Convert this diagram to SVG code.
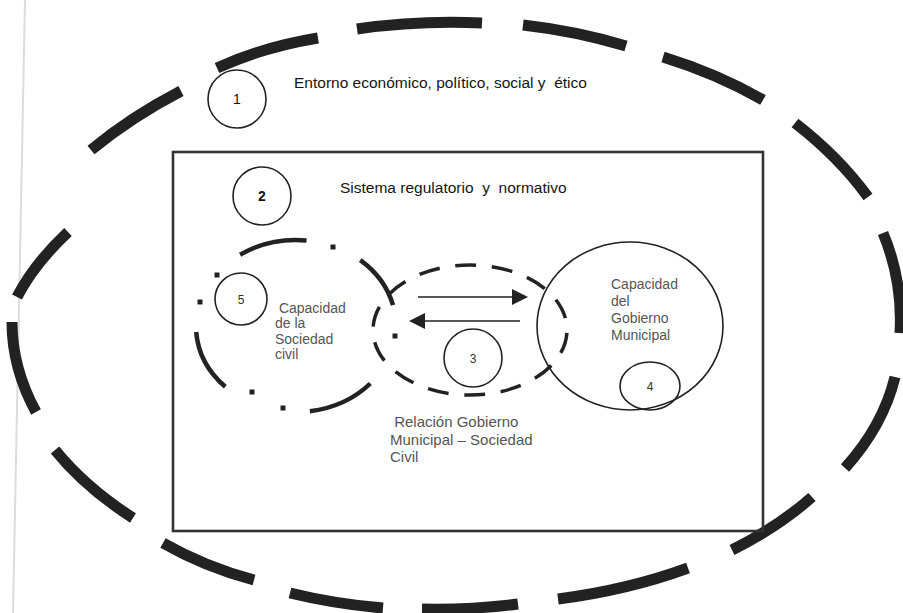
<svg xmlns="http://www.w3.org/2000/svg" width="903" height="613" viewBox="0 0 903 613">
<defs>
<style>
.bigdash{fill:none;stroke:#222;stroke-width:11;stroke-linecap:butt}
.thin{fill:none;stroke:#222;stroke-width:1.6}
.frame{fill:none;stroke:#333;stroke-width:2.6}
.soc{fill:none;stroke:#222;stroke-width:4.5}
.dot{fill:#222}
.rel{fill:none;stroke:#222;stroke-width:3.5;stroke-dasharray:21 15.7;stroke-dashoffset:-3}
.t{font-family:"Liberation Sans",Arial,sans-serif;white-space:pre}
.title{font-size:15.5px;fill:#151515}
.inner{font-size:14px;fill:#555}
.rtxt{font-size:15px;fill:#555}
.num{font-size:14px;fill:#111;text-anchor:middle}
.nums{font-size:12px;fill:#333;text-anchor:middle}
.arrow{stroke:#222;stroke-width:1.6;fill:none}
</style>
<marker id="head" markerUnits="userSpaceOnUse" markerWidth="16" markerHeight="16" refX="2" refY="8" orient="auto">
<path d="M0,0 L16,8 L0,16 Z" fill="#222"/>
</marker>
</defs>
<rect width="903" height="613" fill="#fff"/>
<line x1="25" y1="0" x2="13" y2="613" stroke="#dcdcdc" stroke-width="2"/>

<g id="entorno">
<path class="bigdash" d="M91,150 Q131,117 181,91"/>
<path class="bigdash" d="M217,68 Q263,47 318,38"/>
<path class="bigdash" d="M357,29 Q419,20 482,23"/>
<path class="bigdash" d="M523,25 Q576,31 626,46"/>
<path class="bigdash" d="M663,57 Q718,74 763,100"/>
<path class="bigdash" d="M795,123 Q839,157 868,197"/>
<path class="bigdash" d="M883,233 Q903,281 900,333"/>
<path class="bigdash" d="M895,377 Q883,426 845,468"/>
<path class="bigdash" d="M812,497 Q778,527 732,550"/>
<path class="bigdash" d="M688,568 Q628,590 558,599"/>
<path class="bigdash" d="M518,604 Q470,610 422,609"/>
<path class="bigdash" d="M383,608 Q335,604 290,593"/>
<path class="bigdash" d="M254,580 Q205,567 163,543"/>
<path class="bigdash" d="M133,518 Q86,488 55,450"/>
<path class="bigdash" d="M36,412 Q12,368 12,322"/>
<path class="bigdash" d="M17,297 Q34,264 68,232"/>
<circle class="thin" cx="237" cy="99" r="29"/>
<text class="t num" x="237" y="104">1</text>
<text class="t title" x="294" y="88" xml:space="preserve">Entorno económico, político, social y  ético</text>
</g>

<g id="sistema">
<rect class="frame" x="173" y="152" width="590" height="379"/>
<circle class="thin" cx="262" cy="196" r="29"/>
<text class="t num" x="262" y="201" font-weight="bold">2</text>
<text class="t title" x="340" y="193" xml:space="preserve">Sistema regulatorio  y  normativo</text>
</g>

<g id="sociedad">
<path class="soc" d="M240.1,254.7 A100,86 0 0 1 306.5,240.5"/>
<path class="soc" d="M360.3,260.1 A100,86 0 0 1 393.0,305.2"/>
<path class="soc" d="M370.3,383.5 A100,86 0 0 1 309.9,411.2"/>
<path class="soc" d="M225.3,386.8 A100,86 0 0 1 196.2,332.0"/>
<rect class="dot" x="330.5" y="244.5" width="5" height="5"/>
<rect class="dot" x="392.5" y="333.5" width="5" height="5"/>
<rect class="dot" x="280.5" y="405.5" width="5" height="5"/>
<rect class="dot" x="249.5" y="389.5" width="5" height="5"/>
<rect class="dot" x="197.5" y="299.5" width="5" height="5"/>
<rect class="dot" x="214.5" y="272.5" width="5" height="5"/>
<circle class="thin" cx="241" cy="299" r="26"/>
<text class="t nums" x="241" y="304">5</text>
<text class="t inner" x="275" y="313" xml:space="preserve"> Capacidad</text>
<text class="t inner" x="275" y="328">de la</text>
<text class="t inner" x="275" y="344">Sociedad</text>
<text class="t inner" x="275" y="359">civil</text>
</g>

<g id="relacion">
<ellipse class="rel" cx="470" cy="330" rx="97" ry="65"/>
<circle class="thin" cx="473" cy="358" r="29"/>
<text class="t nums" x="473" y="363">3</text>
<text class="t rtxt" x="390" y="427" xml:space="preserve"> Relación Gobierno</text>
<text class="t rtxt" x="390" y="445">Municipal – Sociedad</text>
<text class="t rtxt" x="390" y="462">Civil</text>
</g>

<g id="gobierno">
<ellipse class="thin" cx="630" cy="326" rx="93" ry="84"/>
<ellipse class="thin" cx="650" cy="386" rx="30" ry="24"/>
<text class="t nums" x="650" y="391">4</text>
<text class="t inner" x="611" y="289">Capacidad</text>
<text class="t inner" x="611" y="306">del</text>
<text class="t inner" x="611" y="323">Gobierno</text>
<text class="t inner" x="611" y="340">Municipal</text>
</g>

<g id="connectors">
<line class="arrow" x1="418" y1="297" x2="514" y2="297" marker-end="url(#head)"/>
<line class="arrow" x1="520" y1="321" x2="423" y2="321" marker-end="url(#head)"/>
</g>
</svg>
